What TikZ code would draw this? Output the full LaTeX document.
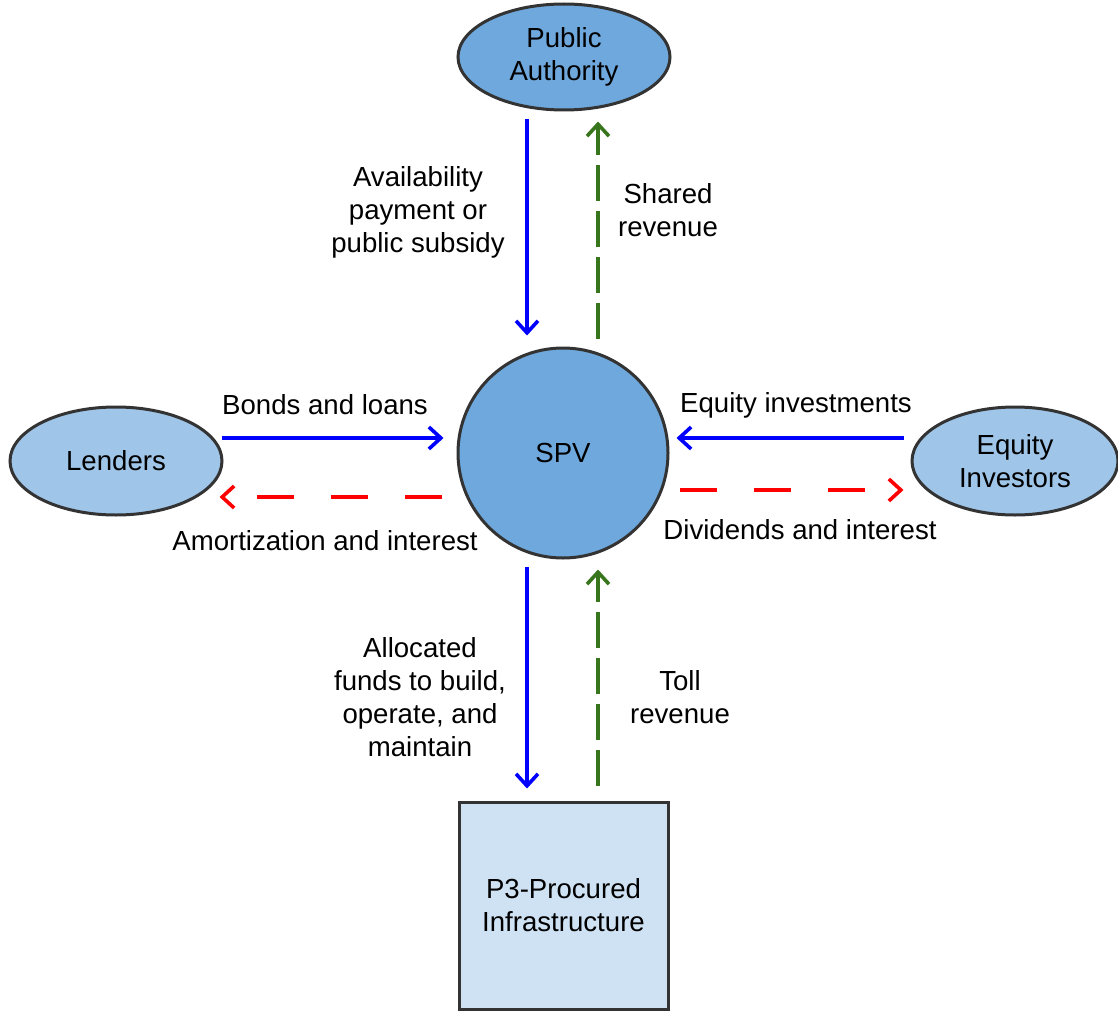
\documentclass[tikz,border=0pt]{standalone}
\usepackage{fontspec}
\setmainfont{Liberation Sans}
\usetikzlibrary{shapes.geometric,arrows.meta}
\definecolor{darkoval}{HTML}{6FA8DC}
\definecolor{lightoval}{HTML}{9FC5E8}
\definecolor{boxfill}{HTML}{CFE2F3}
\definecolor{edgegray}{HTML}{333333}
\definecolor{revgreen}{HTML}{38761D}

\begin{document}
\begin{tikzpicture}[x=0.5pt,y=-0.5pt,
  every node/.style={font=\fontsize{13.8}{16.5}\selectfont},
  party/.style={ellipse,draw=edgegray,line width=1.5pt,inner sep=0pt,minimum width=106pt,minimum height=54pt,align=center},
  lbl/.style={inner sep=0pt,align=center},
  money/.style={line width=1.8pt,-{Straight Barb[length=6pt,width=11pt]}},
  fund/.style={money,blue},
  payback/.style={money,red,dash pattern=on 18.5pt off 18.5pt},
  share/.style={money,revgreen,dash pattern=on 18pt off 5pt}]
  \useasboundingbox (0,0) rectangle (1118,1011);
  \node[party,fill=darkoval,minimum height=53pt] (pa) at (564,57) {Public\\Authority};
  \node[circle,draw=edgegray,line width=1.5pt,fill=darkoval,minimum size=105pt] (spv) at (563,453) {SPV};
  \node[party,fill=lightoval] (lenders) at (116,461) {Lenders};
  \node[party,fill=lightoval,minimum width=103pt] (equity) at (1015,461) {Equity\\Investors};
  \node[rectangle,draw=edgegray,line width=1.5pt,fill=boxfill,minimum width=104.5pt,minimum height=103.5pt,align=center] (infra) at (563.5,905.5) {P3-Procured\\Infrastructure};
  \draw[fund] ([xshift=-18.5pt,yshift=-4pt]pa.south) -- ([xshift=-18pt,yshift=5.5pt]spv.north);
  \draw[share] ([xshift=17.5pt,yshift=4pt]spv.north) -- ([xshift=17pt,yshift=-5pt]pa.south);
  \draw[fund] ([xshift=-1pt,yshift=11.5pt]lenders.east) -- ([xshift=-6.5pt,yshift=7.5pt]spv.west);
  \draw[payback] ([xshift=-7.5pt,yshift=-22pt]spv.west) -- ([xshift=-2pt,yshift=-18pt]lenders.east);
  \draw[fund] ([xshift=-3.5pt,yshift=11.5pt]equity.west) -- ([xshift=3.5pt,yshift=7.5pt]spv.east);
  \draw[payback] ([xshift=5pt,yshift=-18.5pt]spv.east) -- ([xshift=-3.5pt,yshift=-14.5pt]equity.west);
  \draw[fund] ([xshift=-18pt,yshift=-3.5pt]spv.south) -- ([xshift=-18.25pt,yshift=6pt]infra.north);
  \draw[share] ([xshift=17.25pt,yshift=7.5pt]infra.north) -- ([xshift=17.5pt,yshift=-5pt]spv.south);
  \node[lbl] (availlbl) at (418,212) {Availability\\payment or\\public subsidy};
  \node[lbl] (sharedlbl) at (668,210) {Shared\\revenue};
  \node[lbl] (bondslbl) at (325,405) {Bonds and loans};
  \node[lbl] (amortlbl) at (325,541) {Amortization and interest};
  \node[lbl] (eqinvlbl) at (796,405) {Equity investments};
  \node[lbl] (divlbl) at (800,530) {Dividends and interest};
  \node[lbl] (alloclbl) at (420,697) {Allocated\\funds to build,\\operate, and\\maintain};
  \node[lbl] (tolllbl) at (680,697) {Toll\\revenue};
\end{tikzpicture}
\end{document}
